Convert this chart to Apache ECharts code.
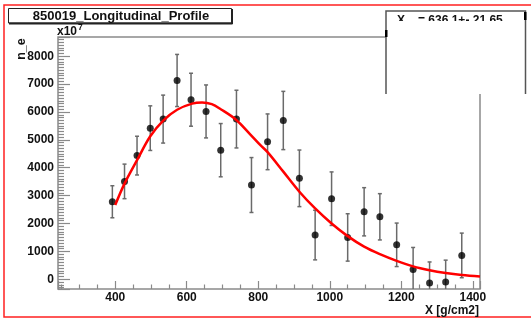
<!DOCTYPE html>
<html>
<head>
<meta charset="utf-8">
<script src="https://cdn.jsdelivr.net/npm/echarts@6/dist/echarts.min.js"></script>
<style>
html,body{margin:0;padding:0;background:#fff;}
#chart{width:531px;height:320px;}
</style>
</head>
<body>
<div id="chart"></div>
<script>
// Data points (X in g/cm2, n_e in units of 1e7)
const xVals = [392, 426, 461, 498, 534, 573, 612, 654, 695, 739, 781, 826, 870, 915, 959, 1005, 1050, 1096, 1140, 1187, 1233, 1279, 1324, 1369];
const yVals = [2780, 3510, 4435, 5420, 5745, 7130, 6440, 6020, 4630, 5745, 3380, 4930, 5695, 3620, 1585, 2890, 1500, 2420, 2240, 1235, 350, -135, -95, 855];
const yErr  = [575, 620, 695, 800, 860, 935, 950, 950, 955, 1035, 985, 1000, 1045, 1015, 890, 960, 850, 865, 830, 780, 790, 755, 780, 800];
// Fit curve samples
const fitX = [400, 426, 461, 498, 535, 573, 615, 643, 670, 695, 737, 778, 806, 826, 870, 915, 959, 1005, 1050, 1096, 1140, 1187, 1233, 1279, 1324, 1369, 1420];
const fitY = [2660, 3430, 4270, 5130, 5700, 6080, 6300, 6340, 6280, 6100, 5730, 5190, 4810, 4560, 3860, 3140, 2540, 2000, 1547, 1170, 900, 660, 460, 320, 220, 150, 100];
// Axis ranges and labels
const xMin = 240, xMax = 1420;
const yMin = -350, yMax = 8690;
const titleText = '850019_Longitudinal_Profile';
const xTitle = 'X [g/cm2]';
const yTitle = 'n_e';
const statsText = '= 636.1+- 21.65';

const FONT = '"Liberation Sans", Arial, Helvetica, sans-serif';
const chart = echarts.init(document.getElementById('chart'), null, {renderer: 'canvas'});

const errData = xVals.map((x, i) => [x, yVals[i] - yErr[i], yVals[i] + yErr[i]]);
const ptData = xVals.map((x, i) => [x, yVals[i]]);
const fitData = fitX.map((x, i) => [x, fitY[i]]);

const option = {
  animation: false,
  backgroundColor: '#fff',
  grid: {left: 58, right: 51, top: 37, bottom: 31, show: true, borderColor: '#8a8a8a', borderWidth: 1.5, backgroundColor: '#fff'},
  xAxis: {
    type: 'value', min: xMin, max: xMax, splitNumber: 6,
    axisLine: {show: false, onZero: false},
    splitLine: {show: false},
    axisTick: {show: true, inside: true, length: 8, lineStyle: {color: '#8a8a8a', width: 1.2}},
    minorTick: {show: true, splitNumber: 4, length: 4.5, lineStyle: {color: '#8a8a8a', width: 1.2}},
    axisLabel: {showMinLabel: false, showMaxLabel: false, margin: 3, color: '#111', fontFamily: FONT, fontWeight: 'bold', fontSize: 12,
      formatter: v => String(v)}
  },
  yAxis: {
    type: 'value', min: yMin, max: yMax, splitNumber: 9,
    axisLine: {show: false, onZero: false},
    splitLine: {show: false},
    axisTick: {show: true, inside: true, length: 12, lineStyle: {color: '#8a8a8a', width: 1.2}},
    minorTick: {show: true, splitNumber: 10, length: 6, lineStyle: {color: '#8a8a8a', width: 1.2}},
    axisLabel: {showMinLabel: false, showMaxLabel: false, margin: 4, color: '#111', fontFamily: FONT, fontWeight: 'bold', fontSize: 12,
      formatter: v => String(v)}
  },
  series: [
    {
      type: 'custom',
      clip: true,
      z: 2,
      data: errData,
      renderItem: function (params, api) {
        const x = api.value(0);
        const lo = api.coord([x, api.value(1)]);
        const hi = api.coord([x, api.value(2)]);
        const cw = 2;
        const style = {stroke: '#6a6a6a', lineWidth: 1.5};
        return {
          type: 'group',
          children: [
            {type: 'line', shape: {x1: lo[0], y1: lo[1], x2: hi[0], y2: hi[1]}, style: style},
            {type: 'line', shape: {x1: lo[0] - cw, y1: lo[1], x2: lo[0] + cw, y2: lo[1]}, style: style},
            {type: 'line', shape: {x1: hi[0] - cw, y1: hi[1], x2: hi[0] + cw, y2: hi[1]}, style: style}
          ]
        };
      }
    },
    {
      type: 'scatter', z: 3, data: ptData, symbol: 'circle', symbolSize: 7,
      itemStyle: {color: '#000'}
    },
    {
      type: 'line', z: 4, data: fitData, smooth: 0.35, showSymbol: false, clip: true,
      lineStyle: {color: '#ff0000', width: 2.5}
    }
  ],
  graphic: [
    // red canvas border
    {type: 'rect', z: 100, silent: true, shape: {x: 4, y: 5, width: 560, height: 312}, style: {fill: 'none', stroke: '#ff2020', lineWidth: 1.5}},
    // title box
    {type: 'rect', z: 100, shape: {x: 8.5, y: 8.5, width: 223, height: 14.5}, style: {fill: '#fff', stroke: '#222', lineWidth: 1}},
    {type: 'line', z: 101, shape: {x1: 9, y1: 23.5, x2: 232.5, y2: 23.5}, style: {stroke: '#222', lineWidth: 2}},
    {type: 'line', z: 101, shape: {x1: 232, y1: 9, x2: 232, y2: 24}, style: {stroke: '#222', lineWidth: 2}},
    {type: 'text', z: 102, style: {x: 121, y: 16, text: titleText, align: 'center', verticalAlign: 'middle', fill: '#111', font: 'bold 13px ' + FONT}},
    // x10^7
    {type: 'text', z: 102, style: {x: 57, y: 32, verticalAlign: 'middle', text: '{a|x10}{b|7}', fill: '#111',
      rich: {a: {font: 'bold 12px ' + FONT, fill: '#111'}, b: {font: 'bold 8.5px ' + FONT, fill: '#111', verticalAlign: 'top', padding: [0, 0, 9, 1]}}}},
    // y title
    {type: 'text', z: 102, x: 22, y: 49, rotation: Math.PI / 2, style: {x: 0, y: 0, text: yTitle, align: 'center', verticalAlign: 'middle', fill: '#111', font: 'bold 12.5px ' + FONT}},
    // x title
    {type: 'text', z: 102, style: {x: 479, y: 311, text: xTitle, align: 'right', verticalAlign: 'middle', fill: '#111', font: 'bold 12px ' + FONT}},
    // stats box
    {type: 'rect', z: 100, shape: {x: 386, y: 11, width: 139.5, height: 83}, style: {fill: '#fff', stroke: 'none'}},
    {type: 'text', z: 101, style: {x: 397, y: 14.5, text: 'X', verticalAlign: 'top', fill: '#111', font: 'bold 12px ' + FONT}},
    {type: 'text', z: 101, style: {x: 418, y: 14.5, text: statsText, verticalAlign: 'top', fill: '#111', font: 'bold 12px ' + FONT}},
    {type: 'rect', z: 102, shape: {x: 387, y: 21, width: 137.5, height: 72.5}, style: {fill: '#fff', stroke: 'none'}},
    {type: 'polyline', z: 103, shape: {points: [[386, 94], [386, 11], [525.5, 11], [525.5, 94]]}, style: {fill: 'none', stroke: '#555', lineWidth: 1.5}},
    {type: 'rect', z: 104, shape: {x: 524, y: 12, width: 2.5, height: 8}, style: {fill: '#000'}},
    {type: 'rect', z: 104, shape: {x: 385, y: 30, width: 2.5, height: 7}, style: {fill: '#000'}}
  ]
};
chart.setOption(option);
</script>
</body>
</html>
